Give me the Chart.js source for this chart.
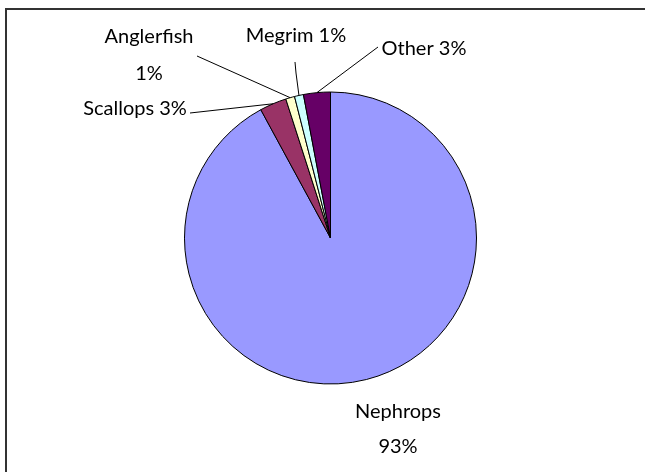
<!DOCTYPE html>
<html>
<head>
<meta charset="utf-8">
<script src="https://cdn.jsdelivr.net/npm/chart.js@4"></script>
<style>
  html, body { margin: 0; padding: 0; background: #fff; }
  canvas { display: block; }
</style>
</head>
<body>
<canvas id="c" width="645" height="472"></canvas>
<script>
// Landings by species, share of total (%)
const species = ['Nephrops', 'Scallops', 'Anglerfish', 'Megrim', 'Other'];
const shares = [93, 3, 1, 1, 3];
const sliceColors = ['#9999FF', '#993366', '#FFFFCC', '#CCFFFF', '#660066'];

// Label text lines and where each label sits, with the leader line start
const labelLines = [
  [species[0], shares[0] + '%'],
  [species[1] + ' ' + shares[1] + '%'],
  [species[2], shares[2] + '%'],
  [species[3] + ' ' + shares[3] + '%'],
  [species[4] + ' ' + shares[4] + '%']
];
const labelPlace = [
  { x: 398, y: 418, lh: 35, line: null },
  { x: 135, y: 115, lh: 0, line: [190, 113] },
  { x: 149, y: 43, lh: 37, line: [197, 56] },
  { x: 296, y: 42, lh: 0, line: [295, 62], bend: [296, 73] },
  { x: 424, y: 55, lh: 0, line: [378, 47] }
];

const frameAndLabels = {
  id: 'frameAndLabels',
  afterDraw(chart) {
    const ctx = chart.ctx;
    ctx.save();
    // chart frame (top and left rules)
    ctx.fillStyle = '#333333';
    ctx.fillRect(5, 8, 640, 2);
    ctx.fillRect(5, 8, 2, 464);

    const arcs = chart.getDatasetMeta(0).data;
    ctx.font = '20px Lato, "Open Sans", sans-serif';
    ctx.fillStyle = '#000';
    ctx.textAlign = 'center';
    ctx.textBaseline = 'alphabetic';
    ctx.strokeStyle = '#000';
    ctx.lineWidth = 1;
    labelPlace.forEach((p, i) => {
      labelLines[i].forEach((t, k) => ctx.fillText(t, p.x, p.y + k * p.lh));
      if (p.line) {
        const a = arcs[i];
        const mid = (a.startAngle + a.endAngle) / 2;
        const ex = a.x + Math.cos(mid) * a.outerRadius;
        const ey = a.y + Math.sin(mid) * a.outerRadius;
        ctx.beginPath();
        ctx.moveTo(p.line[0], p.line[1]);
        if (p.bend) ctx.lineTo(p.bend[0], p.bend[1]);
        ctx.lineTo(ex, ey);
        ctx.stroke();
      }
    });
    ctx.restore();
  }
};

new Chart(document.getElementById('c'), {
  type: 'pie',
  data: {
    labels: species,
    datasets: [{
      data: shares,
      backgroundColor: sliceColors,
      borderColor: '#000000',
      borderWidth: 1
    }]
  },
  options: {
    responsive: false,
    animation: false,
    layout: { padding: { top: 91, bottom: 87, left: 184, right: 168 } },
    plugins: {
      legend: { display: false },
      tooltip: { enabled: false }
    }
  },
  plugins: [frameAndLabels]
});
</script>
</body>
</html>
